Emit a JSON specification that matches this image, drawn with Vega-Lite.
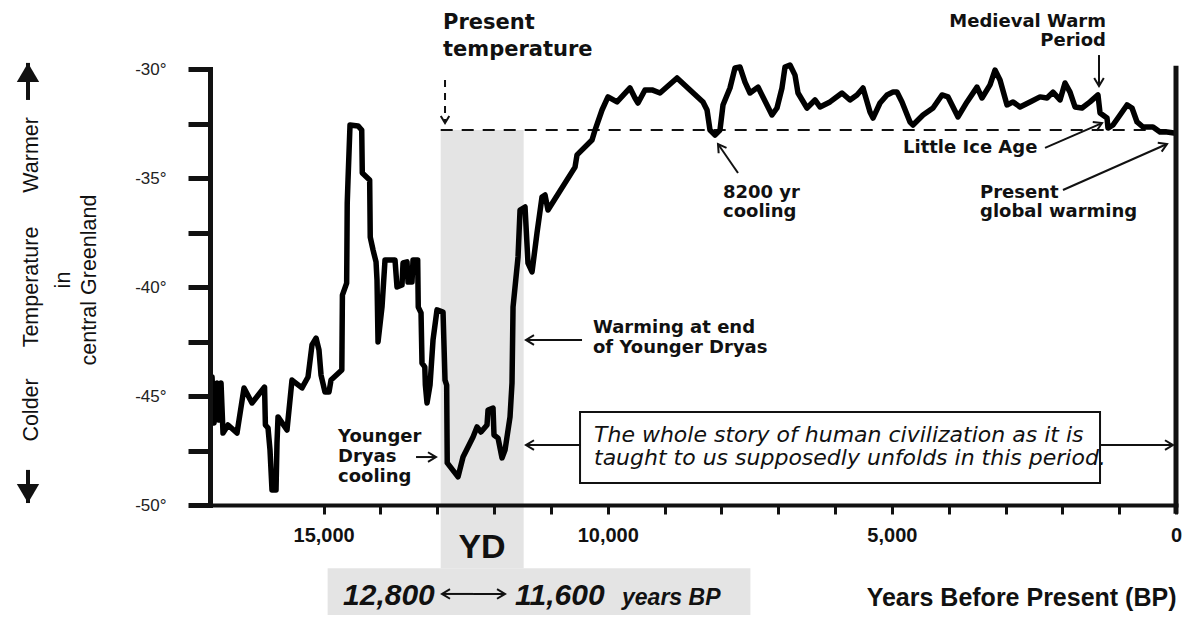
{
  "$schema": "https://vega.github.io/schema/vega-lite/v6.json",
  "width": 966,
  "height": 436,
  "autosize": "none",
  "padding": {"left": 210, "top": 69, "right": 24, "bottom": 120},
  "background": "white",
  "config": {"view": {"stroke": null}, "font": "Liberation Sans"},
  "datasets": {
    "temperature": [
      {"years_bp": 16964, "temp": -44.13}, {"years_bp": 16929, "temp": -46.24}, {"years_bp": 16877, "temp": -44.40},
      {"years_bp": 16841, "temp": -46.10}, {"years_bp": 16806, "temp": -44.40}, {"years_bp": 16771, "temp": -46.70},
      {"years_bp": 16683, "temp": -46.33}, {"years_bp": 16525, "temp": -46.70}, {"years_bp": 16401, "temp": -44.63},
      {"years_bp": 16261, "temp": -45.32}, {"years_bp": 16040, "temp": -44.59}, {"years_bp": 16025, "temp": -46.33},
      {"years_bp": 15979, "temp": -46.47}, {"years_bp": 15944, "temp": -47.48}, {"years_bp": 15909, "temp": -49.31},
      {"years_bp": 15838, "temp": -49.31}, {"years_bp": 15821, "temp": -47.16}, {"years_bp": 15803, "temp": -45.96},
      {"years_bp": 15645, "temp": -46.56}, {"years_bp": 15557, "temp": -44.27}, {"years_bp": 15381, "temp": -44.63},
      {"years_bp": 15275, "temp": -44.13}, {"years_bp": 15205, "temp": -42.66}, {"years_bp": 15134, "temp": -42.34},
      {"years_bp": 15082, "temp": -42.89}, {"years_bp": 15046, "temp": -44.04}, {"years_bp": 14976, "temp": -44.82},
      {"years_bp": 14906, "temp": -44.82}, {"years_bp": 14870, "temp": -44.27}, {"years_bp": 14680, "temp": -43.81},
      {"years_bp": 14670, "temp": -40.37}, {"years_bp": 14595, "temp": -39.82}, {"years_bp": 14585, "temp": -36.15},
      {"years_bp": 14571, "temp": -35.09}, {"years_bp": 14536, "temp": -32.57}, {"years_bp": 14395, "temp": -32.61},
      {"years_bp": 14330, "temp": -32.80}, {"years_bp": 14320, "temp": -34.77}, {"years_bp": 14190, "temp": -35.09},
      {"years_bp": 14180, "temp": -37.71}, {"years_bp": 14131, "temp": -38.30}, {"years_bp": 14078, "temp": -38.85},
      {"years_bp": 14061, "temp": -39.68}, {"years_bp": 14043, "temp": -42.52}, {"years_bp": 13973, "temp": -40.92},
      {"years_bp": 13920, "temp": -38.76}, {"years_bp": 13744, "temp": -38.76}, {"years_bp": 13709, "temp": -40.00},
      {"years_bp": 13621, "temp": -39.91}, {"years_bp": 13603, "temp": -38.90}, {"years_bp": 13533, "temp": -38.85},
      {"years_bp": 13515, "temp": -39.77}, {"years_bp": 13445, "temp": -39.77}, {"years_bp": 13427, "temp": -38.76},
      {"years_bp": 13345, "temp": -38.76}, {"years_bp": 13335, "temp": -40.92}, {"years_bp": 13286, "temp": -41.19},
      {"years_bp": 13269, "temp": -43.49}, {"years_bp": 13220, "temp": -43.67}, {"years_bp": 13210, "temp": -44.50},
      {"years_bp": 13181, "temp": -45.32}, {"years_bp": 13128, "temp": -44.50}, {"years_bp": 13075, "temp": -42.43},
      {"years_bp": 13005, "temp": -41.05}, {"years_bp": 12899, "temp": -41.15}, {"years_bp": 12864, "temp": -44.27},
      {"years_bp": 12835, "temp": -44.50}, {"years_bp": 12825, "temp": -48.07}, {"years_bp": 12635, "temp": -48.71},
      {"years_bp": 12547, "temp": -47.80}, {"years_bp": 12371, "temp": -46.88}, {"years_bp": 12301, "temp": -46.42},
      {"years_bp": 12231, "temp": -46.65}, {"years_bp": 12125, "temp": -46.33}, {"years_bp": 12107, "temp": -45.64},
      {"years_bp": 12019, "temp": -45.55}, {"years_bp": 12002, "temp": -46.79}, {"years_bp": 11931, "temp": -46.93},
      {"years_bp": 11861, "temp": -47.84}, {"years_bp": 11808, "temp": -47.48}, {"years_bp": 11720, "temp": -45.96},
      {"years_bp": 11685, "temp": -44.40}, {"years_bp": 11667, "temp": -40.92}, {"years_bp": 11579, "temp": -38.62},
      {"years_bp": 11544, "temp": -36.47}, {"years_bp": 11456, "temp": -36.33}, {"years_bp": 11404, "temp": -38.90},
      {"years_bp": 11333, "temp": -39.31}, {"years_bp": 11245, "temp": -37.52}, {"years_bp": 11157, "temp": -35.87},
      {"years_bp": 11104, "temp": -35.78}, {"years_bp": 11052, "temp": -36.47}, {"years_bp": 10576, "temp": -34.50},
      {"years_bp": 10541, "temp": -33.94}, {"years_bp": 10277, "temp": -33.26}, {"years_bp": 10224, "temp": -32.80},
      {"years_bp": 10101, "temp": -31.88}, {"years_bp": 9996, "temp": -31.28}, {"years_bp": 9837, "temp": -31.51},
      {"years_bp": 9609, "temp": -30.87}, {"years_bp": 9521, "temp": -31.33}, {"years_bp": 9468, "temp": -31.56},
      {"years_bp": 9345, "temp": -30.96}, {"years_bp": 9221, "temp": -30.96}, {"years_bp": 9081, "temp": -31.10},
      {"years_bp": 8781, "temp": -30.41}, {"years_bp": 8324, "temp": -31.51}, {"years_bp": 8253, "temp": -31.88},
      {"years_bp": 8201, "temp": -32.80}, {"years_bp": 8113, "temp": -33.03}, {"years_bp": 8025, "temp": -32.80},
      {"years_bp": 7972, "temp": -31.65}, {"years_bp": 7849, "temp": -30.87}, {"years_bp": 7761, "temp": -29.95},
      {"years_bp": 7673, "temp": -29.91}, {"years_bp": 7585, "temp": -30.60}, {"years_bp": 7497, "temp": -31.10},
      {"years_bp": 7356, "temp": -30.83}, {"years_bp": 7110, "temp": -32.11}, {"years_bp": 7022, "temp": -31.79},
      {"years_bp": 6934, "temp": -30.87}, {"years_bp": 6881, "temp": -29.91}, {"years_bp": 6793, "temp": -29.82},
      {"years_bp": 6705, "temp": -30.28}, {"years_bp": 6652, "temp": -31.10}, {"years_bp": 6494, "temp": -31.79},
      {"years_bp": 6353, "temp": -31.42}, {"years_bp": 6265, "temp": -31.74}, {"years_bp": 6089, "temp": -31.51},
      {"years_bp": 5878, "temp": -31.10}, {"years_bp": 5737, "temp": -31.42}, {"years_bp": 5614, "temp": -31.19},
      {"years_bp": 5508, "temp": -30.87}, {"years_bp": 5385, "temp": -31.97}, {"years_bp": 5332, "temp": -32.25},
      {"years_bp": 5209, "temp": -31.56}, {"years_bp": 5086, "temp": -31.19}, {"years_bp": 4980, "temp": -31.06},
      {"years_bp": 4910, "temp": -31.06}, {"years_bp": 4822, "temp": -31.51}, {"years_bp": 4681, "temp": -32.43},
      {"years_bp": 4628, "temp": -32.57}, {"years_bp": 4452, "temp": -32.11}, {"years_bp": 4276, "temp": -31.79},
      {"years_bp": 4118, "temp": -31.19}, {"years_bp": 4012, "temp": -31.28}, {"years_bp": 3836, "temp": -32.20},
      {"years_bp": 3678, "temp": -31.51}, {"years_bp": 3502, "temp": -30.83}, {"years_bp": 3414, "temp": -31.33},
      {"years_bp": 3273, "temp": -30.73}, {"years_bp": 3185, "temp": -30.05}, {"years_bp": 3097, "temp": -30.50},
      {"years_bp": 2974, "temp": -31.65}, {"years_bp": 2868, "temp": -31.51}, {"years_bp": 2745, "temp": -31.74},
      {"years_bp": 2569, "temp": -31.51}, {"years_bp": 2393, "temp": -31.28}, {"years_bp": 2270, "temp": -31.33},
      {"years_bp": 2165, "temp": -31.06}, {"years_bp": 2041, "temp": -31.42}, {"years_bp": 1953, "temp": -30.64},
      {"years_bp": 1865, "temp": -31.06}, {"years_bp": 1777, "temp": -31.74}, {"years_bp": 1654, "temp": -31.79},
      {"years_bp": 1513, "temp": -31.51}, {"years_bp": 1373, "temp": -31.19}, {"years_bp": 1337, "temp": -32.02},
      {"years_bp": 1214, "temp": -32.25}, {"years_bp": 1197, "temp": -32.71}, {"years_bp": 1109, "temp": -32.57},
      {"years_bp": 985, "temp": -32.11}, {"years_bp": 862, "temp": -31.65}, {"years_bp": 774, "temp": -31.79},
      {"years_bp": 686, "temp": -32.43}, {"years_bp": 581, "temp": -32.66}, {"years_bp": 405, "temp": -32.66},
      {"years_bp": 282, "temp": -32.89}, {"years_bp": 158, "temp": -32.89}, {"years_bp": 35, "temp": -32.94}
    ],
    "bands": [
      {"label": "YD", "start": 12940, "end": 11480, "top": -32.8, "bottom": -52.9},
      {"label": "12,800 to 11,600 years BP", "start": 14930, "end": 7490, "top": -52.9, "bottom": -55.05}
    ],
    "present_level": [{"from": 12940, "to": 0, "temp": -32.8}],
    "frame": [{"years_bp": 0, "top": -29.85, "bottom": -50.4}],
    "note_box": [{"from": 10488, "to": 1337, "top": -45.73, "bottom": -48.99}],
    "arrows": [
      {"t_from": 1355, "T_from": -29.36, "t_to": 1355, "T_to": -30.78, "points": "down"},
      {"t_from": 2305, "T_from": -33.62, "t_to": 1302, "T_to": -32.48, "points": "up-right"},
      {"t_from": 1989, "T_from": -35.55, "t_to": 158, "T_to": -33.44, "points": "up-right"},
      {"t_from": 7708, "T_from": -34.77, "t_to": 8060, "T_to": -33.44, "points": "up-left"},
      {"t_from": 10453, "T_from": -42.43, "t_to": 11439, "T_to": -42.43, "points": "left"},
      {"t_from": 10488, "T_from": -47.25, "t_to": 11439, "T_to": -47.25, "points": "left"},
      {"t_from": 1337, "T_from": -47.25, "t_to": 53, "T_to": -47.25, "points": "right"},
      {"t_from": 13374, "T_from": -47.80, "t_to": 13023, "T_to": -47.80, "points": "right"},
      {"t_from": 12371, "T_from": -54.08, "t_to": 12917, "T_to": -54.08, "points": "left"},
      {"t_from": 12371, "T_from": -54.08, "t_to": 11808, "T_to": -54.08, "points": "right"}
    ],
    "dashed_arrow": [{"t_from": 12864, "T_from": -30.5, "t_to": 12864, "T_to": -32.48, "points": "down"}],
    "axis_arrows": [
      {"t_from": 20203, "T_from": -31.42, "t_to": 20203, "T_to": -29.72, "points": "up"},
      {"t_from": 20203, "T_from": -48.39, "t_to": 20203, "T_to": -49.91, "points": "down"}
    ],
    "notes": [
      {"text": "8200 yr", "t": 7972, "T": -35.92},
      {"text": "cooling", "t": 7972, "T": -36.8},
      {"text": "Little Ice Age", "t": 4804, "T": -33.85},
      {"text": "Present", "t": 3449, "T": -35.92},
      {"text": "global warming", "t": 3449, "T": -36.79},
      {"text": "Warming at end", "t": 10260, "T": -42.11},
      {"text": "of Younger Dryas", "t": 10260, "T": -43.03},
      {"text": "Younger", "t": 14747, "T": -47.11},
      {"text": "Dryas", "t": 14747, "T": -48.03},
      {"text": "cooling", "t": 14747, "T": -48.94}
    ],
    "notes_right": [
      {"text": "Medieval Warm", "t": 1232, "T": -28.07},
      {"text": "Period", "t": 1232, "T": -28.95}
    ],
    "present_title": [
      {"text": "Present", "t": 12899, "T": -28.17},
      {"text": "temperature", "t": 12899, "T": -29.4}
    ],
    "box_text": [
      {"text": "The whole story of human civilization as it is", "t": 10242, "T": -47.11},
      {"text": "taught to us supposedly unfolds in this period.", "t": 10242, "T": -48.16}
    ],
    "yd_label": [{"text": "YD", "t": 12213, "T": -52.43}],
    "range_label": [
      {"text": "12,800", "t": 14659, "T": -54.59},
      {"text": "11,600", "t": 11632, "T": -54.59}
    ],
    "range_unit": [{"text": "years BP", "t": 9749, "T": -54.59}],
    "y_title": [
      {"text": "Warmer", "t": 20027, "T": -33.94},
      {"text": "Temperature", "t": 20027, "T": -40.0},
      {"text": "Colder", "t": 20027, "T": -45.64},
      {"text": "in", "t": 19463, "T": -39.68},
      {"text": "central Greenland", "t": 19006, "T": -39.68}
    ]
  },
  "layer": [
    {
      "data": {"name": "bands"},
      "mark": {"type": "rect", "color": "#e4e4e4"},
      "encoding": {
        "x": {
          "field": "start", "type": "quantitative",
          "scale": {"domain": [17000, 0], "nice": false, "zero": false},
          "axis": {
            "values": [15000, 14000, 13000, 12000, 11000, 10000, 9000, 8000, 7000, 6000, 5000, 4000, 3000, 2000, 1000, 0],
            "labelExpr": "datum.value % 5000 === 0 ? format(datum.value, ',') : ''",
            "tickSize": 9, "tickWidth": 3, "tickColor": "#111",
            "domainWidth": 4, "domainColor": "#111", "domainCap": "square",
            "labelFont": "Liberation Sans", "labelFontWeight": "bold", "labelFontSize": 20, "labelColor": "#111",
            "labelPadding": 11, "labelOverlap": false, "labelFlush": false, "labelBound": false,
            "grid": false, "zindex": 1,
            "title": "Years Before Present (BP)",
            "titleFont": "Liberation Sans", "titleFontWeight": "bold", "titleFontSize": 25, "titleColor": "#111",
            "titleAnchor": "end", "titleAlign": "right", "titleBaseline": "alphabetic", "titleX": 966, "titleY": 100
          }
        },
        "x2": {"field": "end"},
        "y": {
          "field": "top", "type": "quantitative",
          "scale": {"domain": [-50, -30], "nice": false, "zero": false},
          "axis": {
            "values": [-50, -47.5, -45, -42.5, -40, -37.5, -35, -32.5, -30],
            "labelExpr": "datum.value % 5 === 0 ? '-' + abs(datum.value) + '°' : ''",
            "tickSize": 22, "tickWidth": 5, "tickColor": "#111",
            "domainWidth": 5, "domainColor": "#111", "domainCap": "square",
            "labelFont": "Liberation Sans", "labelFontSize": 17, "labelColor": "#222", "labelPadding": 22,
            "labelOverlap": false, "labelFlush": false, "labelBound": false,
            "grid": false, "zindex": 1, "title": null
          }
        },
        "y2": {"field": "bottom"}
      }
    },
    {
      "data": {"name": "present_level"},
      "mark": {"type": "rule", "color": "#111", "strokeWidth": 2, "strokeDash": [12, 9]},
      "encoding": {
        "x": {"field": "from", "type": "quantitative"},
        "x2": {"field": "to"},
        "y": {"field": "temp", "type": "quantitative"}
      }
    },
    {
      "data": {"name": "temperature"},
      "mark": {"type": "line", "color": "#000", "strokeWidth": 5.5, "strokeJoin": "round", "strokeCap": "round", "clip": false},
      "encoding": {
        "x": {"field": "years_bp", "type": "quantitative"},
        "y": {"field": "temp", "type": "quantitative"}
      }
    },
    {
      "data": {"name": "frame"},
      "mark": {"type": "rule", "color": "#111", "strokeWidth": 5},
      "encoding": {
        "x": {"field": "years_bp", "type": "quantitative"},
        "y": {"field": "top", "type": "quantitative"},
        "y2": {"field": "bottom"}
      }
    },
    {
      "data": {"name": "note_box"},
      "mark": {"type": "rect", "fill": "white", "stroke": "#111", "strokeWidth": 2},
      "encoding": {
        "x": {"field": "from", "type": "quantitative"},
        "x2": {"field": "to"},
        "y": {"field": "top", "type": "quantitative"},
        "y2": {"field": "bottom"}
      }
    },
    {
      "data": {"name": "arrows"},
      "mark": {"type": "rule", "color": "#111", "strokeWidth": 2},
      "encoding": {
        "x": {"field": "t_from", "type": "quantitative"},
        "x2": {"field": "t_to"},
        "y": {"field": "T_from", "type": "quantitative"},
        "y2": {"field": "T_to"}
      }
    },
    {
      "data": {"name": "dashed_arrow"},
      "mark": {"type": "rule", "color": "#111", "strokeWidth": 2, "strokeDash": [7, 6]},
      "encoding": {
        "x": {"field": "t_from", "type": "quantitative"},
        "x2": {"field": "t_to"},
        "y": {"field": "T_from", "type": "quantitative"},
        "y2": {"field": "T_to"}
      }
    },
    {
      "data": {"name": "arrows"},
      "mark": {"type": "point", "shape": "M-0.6,-1L0,0L0.6,-1", "filled": false, "stroke": "#111", "strokeWidth": 2, "size": 256, "opacity": 1},
      "encoding": {
        "x": {"field": "t_to", "type": "quantitative"},
        "y": {"field": "T_to", "type": "quantitative"},
        "angle": {"field": "points", "type": "nominal", "legend": null,
          "scale": {"type": "ordinal", "domain": ["down", "left", "right", "up", "up-left", "up-right"], "range": [0, 90, 270, 180, 145, 246]}}
      }
    },
    {
      "data": {"name": "dashed_arrow"},
      "mark": {"type": "point", "shape": "M-0.6,-1L0,0L0.6,-1", "filled": false, "stroke": "#111", "strokeWidth": 2, "size": 200, "opacity": 1},
      "encoding": {
        "x": {"field": "t_to", "type": "quantitative"},
        "y": {"field": "T_to", "type": "quantitative"},
        "angle": {"field": "points", "type": "nominal", "legend": null,
          "scale": {"type": "ordinal", "domain": ["down", "left", "right", "up", "up-left", "up-right"], "range": [0, 90, 270, 180, 145, 246]}}
      }
    },
    {
      "data": {"name": "axis_arrows"},
      "mark": {"type": "rule", "color": "#111", "strokeWidth": 4},
      "encoding": {
        "x": {"field": "t_from", "type": "quantitative"},
        "x2": {"field": "t_to"},
        "y": {"field": "T_from", "type": "quantitative"},
        "y2": {"field": "T_to"}
      }
    },
    {
      "data": {"name": "axis_arrows"},
      "mark": {"type": "point", "shape": "M-1,-1.7L0,0L1,-1.7Z", "filled": true, "color": "#111", "size": 500, "opacity": 1},
      "encoding": {
        "x": {"field": "t_to", "type": "quantitative"},
        "y": {"field": "T_to", "type": "quantitative"},
        "angle": {"field": "points", "type": "nominal", "legend": null,
          "scale": {"type": "ordinal", "domain": ["down", "left", "right", "up", "up-left", "up-right"], "range": [0, 90, 270, 180, 145, 246]}}
      }
    },
    {
      "data": {"name": "notes"},
      "mark": {"type": "text", "font": "DejaVu Sans", "fontWeight": "bold", "fontSize": 18, "color": "#111", "align": "left", "baseline": "alphabetic"},
      "encoding": {
        "x": {"field": "t", "type": "quantitative"},
        "y": {"field": "T", "type": "quantitative"},
        "text": {"field": "text"}
      }
    },
    {
      "data": {"name": "notes_right"},
      "mark": {"type": "text", "font": "DejaVu Sans", "fontWeight": "bold", "fontSize": 18, "color": "#111", "align": "right", "baseline": "alphabetic"},
      "encoding": {
        "x": {"field": "t", "type": "quantitative"},
        "y": {"field": "T", "type": "quantitative"},
        "text": {"field": "text"}
      }
    },
    {
      "data": {"name": "present_title"},
      "mark": {"type": "text", "font": "DejaVu Sans", "fontWeight": "bold", "fontSize": 21, "color": "#111", "align": "left", "baseline": "alphabetic"},
      "encoding": {
        "x": {"field": "t", "type": "quantitative"},
        "y": {"field": "T", "type": "quantitative"},
        "text": {"field": "text"}
      }
    },
    {
      "data": {"name": "box_text"},
      "mark": {"type": "text", "font": "DejaVu Sans", "fontStyle": "italic", "fontSize": 22, "color": "#111", "align": "left", "baseline": "alphabetic"},
      "encoding": {
        "x": {"field": "t", "type": "quantitative"},
        "y": {"field": "T", "type": "quantitative"},
        "text": {"field": "text"}
      }
    },
    {
      "data": {"name": "yd_label"},
      "mark": {"type": "text", "font": "Liberation Sans", "fontWeight": "bold", "fontSize": 34, "color": "#111", "align": "center", "baseline": "alphabetic"},
      "encoding": {
        "x": {"field": "t", "type": "quantitative"},
        "y": {"field": "T", "type": "quantitative"},
        "text": {"field": "text"}
      }
    },
    {
      "data": {"name": "range_label"},
      "mark": {"type": "text", "font": "Liberation Sans", "fontWeight": "bold", "fontStyle": "italic", "fontSize": 30, "color": "#111", "align": "left", "baseline": "alphabetic"},
      "encoding": {
        "x": {"field": "t", "type": "quantitative"},
        "y": {"field": "T", "type": "quantitative"},
        "text": {"field": "text"}
      }
    },
    {
      "data": {"name": "range_unit"},
      "mark": {"type": "text", "font": "Liberation Sans", "fontWeight": "bold", "fontStyle": "italic", "fontSize": 23, "color": "#111", "align": "left", "baseline": "alphabetic"},
      "encoding": {
        "x": {"field": "t", "type": "quantitative"},
        "y": {"field": "T", "type": "quantitative"},
        "text": {"field": "text"}
      }
    },
    {
      "data": {"name": "y_title"},
      "mark": {"type": "text", "font": "Liberation Sans", "fontSize": 21.5, "color": "#111", "align": "center", "baseline": "alphabetic", "angle": 270},
      "encoding": {
        "x": {"field": "t", "type": "quantitative"},
        "y": {"field": "T", "type": "quantitative"},
        "text": {"field": "text"}
      }
    }
  ]
}
